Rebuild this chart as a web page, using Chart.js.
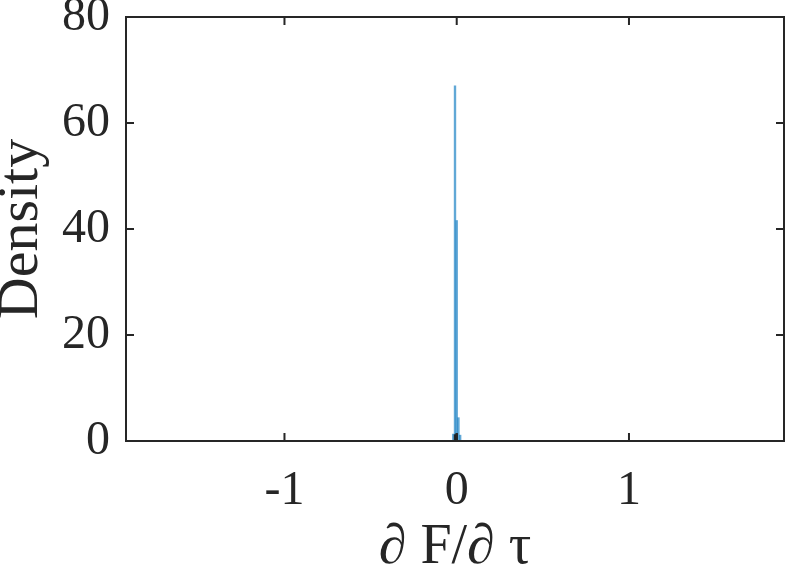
<!DOCTYPE html>
<html>
<head>
<meta charset="utf-8">
<script src="https://cdn.jsdelivr.net/npm/chart.js@4/dist/chart.umd.min.js"></script>
<style>
  body { margin: 0; background: #fff; }
  #wrap { width: 793px; height: 580px; }
  #fontprobe { font-family: 'Liberation Serif'; position: absolute; left: -9999px; }
</style>
</head>
<body>
<span id="fontprobe">0123 Density ∂ F/∂ τ</span>
<div id="wrap"><canvas id="my-chart" width="793" height="580"></canvas></div>
<script>
// histogram bins (centres) and densities
const binCenters = [-0.02, -0.01, 0, 0.01, 0.02]
const blueDensity = [1.3, 67, 41.6, 4.4, 1.1]
const darkDensity = [0, 1.2, 1.4, 0, 0]
const xTicks = [-1, 0, 1]
const yTicks = [0, 20, 40, 60, 80]
const xLabel = '∂ F/∂ τ'
const yLabel = 'Density'

const axisColor = '#262626'
const serif = 'Liberation Serif'

function toPoints(values) {
  return binCenters.map((x, i) => ({ x: x, y: values[i] }))
}

// box around the plot + MATLAB style inward ticks
const boxPlugin = {
  id: 'box',
  afterDraw(chart) {
    const ctx = chart.ctx
    const a = chart.chartArea
    const xs = chart.scales.x
    const ys = chart.scales.y
    const len = 8
    ctx.save()
    ctx.strokeStyle = axisColor
    ctx.lineWidth = 2
    ctx.strokeRect(a.left, a.top, a.right - a.left, a.bottom - a.top)
    ctx.beginPath()
    xTicks.forEach(v => {
      const px = xs.getPixelForValue(v)
      ctx.moveTo(px, a.bottom); ctx.lineTo(px, a.bottom - len)
      ctx.moveTo(px, a.top); ctx.lineTo(px, a.top + len)
    })
    yTicks.forEach(v => {
      const py = ys.getPixelForValue(v)
      ctx.moveTo(a.left, py); ctx.lineTo(a.left + len, py)
      ctx.moveTo(a.right, py); ctx.lineTo(a.right - len, py)
    })
    ctx.stroke()
    ctx.restore()
  }
}

function printChart() {
  const ctx = document.getElementById('my-chart').getContext('2d')
  new Chart(ctx, {
    type: 'bar',
    data: {
      datasets: [
        {
          label: 'dark',
          data: toPoints(darkDensity),
          backgroundColor: 'rgba(25, 25, 25, 0.9)',
          borderWidth: 0
        },
        {
          label: 'density',
          data: toPoints(blueDensity),
          backgroundColor: 'rgba(0, 114, 189, 0.62)',
          borderWidth: 0
        }
      ]
    },
    options: {
      responsive: false,
      animation: false,
      barPercentage: 1,
      categoryPercentage: 1,
      grouped: false,
      layout: { padding: { top: 17, right: 9, left: 0, bottom: 0 } },
      plugins: { legend: { display: false }, tooltip: { enabled: false } },
      scales: {
        x: {
          type: 'linear',
          min: -1.92,
          max: 1.9,
          offset: false,
          bounds: 'data',
          grid: { display: false, drawTicks: false },
          border: { display: false },
          afterBuildTicks(scale) {
            scale.ticks = xTicks.map(v => ({ value: v }))
          },
          ticks: {
            padding: 22,
            color: axisColor,
            font: { family: serif, size: 48 }
          },
          title: {
            display: true,
            text: xLabel,
            color: axisColor,
            font: { family: serif, size: 56, lineHeight: 1.0 },
            padding: { top: 0, bottom: 4 }
          },
          afterFit(scale) {
            scale.height = 139
            scale.paddingLeft = 0
            scale.paddingRight = 0
          }
        },
        y: {
          min: 0,
          max: 80,
          grid: { display: false, drawTicks: false },
          border: { display: false },
          afterBuildTicks(scale) {
            scale.ticks = yTicks.map(v => ({ value: v }))
          },
          ticks: {
            padding: 16,
            color: axisColor,
            font: { family: serif, size: 48 }
          },
          title: {
            display: true,
            text: yLabel,
            color: axisColor,
            font: { family: serif, size: 58, lineHeight: 0.75 },
            padding: { top: 0, bottom: 0 }
          },
          afterFit(scale) {
            scale.width = 126
            scale.paddingTop = 0
            scale.paddingBottom = 0
          }
        }
      }
    },
    plugins: [boxPlugin]
  })
}

document.fonts.load('48px "Liberation Serif"').then(printChart).catch(printChart)
</script>
</body>
</html>
